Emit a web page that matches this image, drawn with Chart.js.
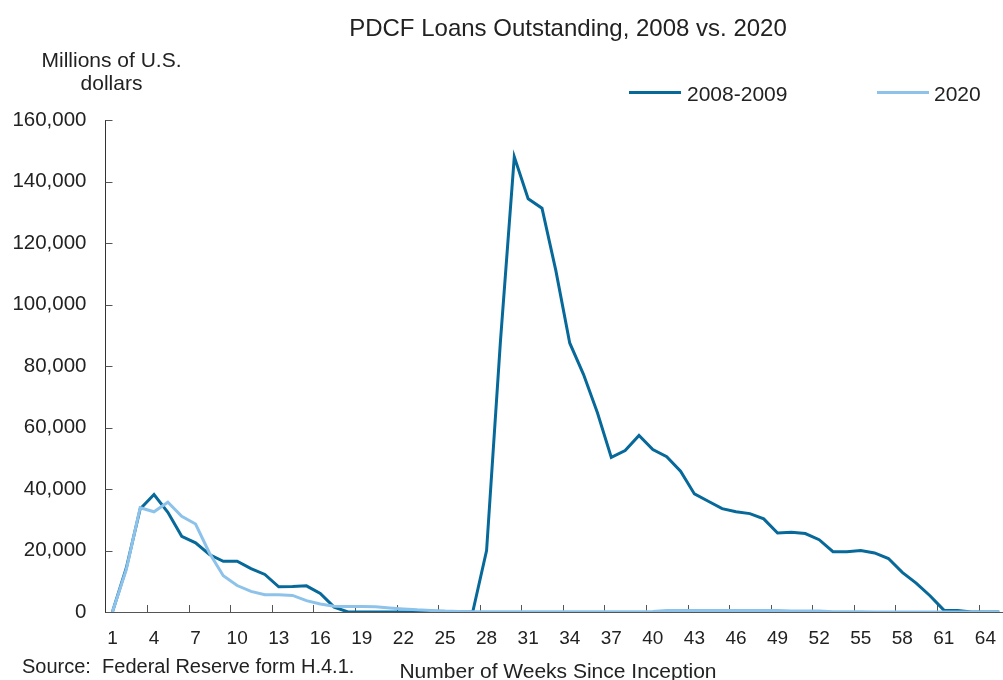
<!DOCTYPE html>
<html>
<head>
<meta charset="utf-8">
<script src="https://cdn.jsdelivr.net/npm/chart.js@4/dist/chart.umd.min.js"></script>
<style>
html, body { margin: 0; padding: 0; background: #fff; overflow: hidden; width: 1003px; height: 680px; }
#wrap { position: relative; width: 1010px; height: 680px; font-family: "Liberation Sans", Arial, sans-serif; color: #222; }
#wrap .t { position: absolute; white-space: pre; line-height: 1; }
#wrap .sw { position: absolute; height: 3px; width: 52px; }
canvas { position: absolute; left: 0; top: 0; }
</style>
</head>
<body>
<div id="wrap">
  <canvas id="pdcfChart" width="1011" height="680"></canvas>
  <div class="t" style="left:568px;top:15.5px;font-size:24px;transform:translateX(-50%)">PDCF Loans Outstanding, 2008 vs. 2020</div>
  <div class="t" style="left:111.5px;top:48px;font-size:21px;line-height:23.3px;text-align:center;transform:translateX(-50%)">Millions of U.S.
dollars</div>
  <div id="legend"></div>
  <div class="t" style="left:22px;top:656px;font-size:20px">Source:  Federal Reserve form H.4.1.</div>
  <div class="t" style="left:558px;top:659.5px;font-size:21px;transform:translateX(-50%)">Number of Weeks Since Inception</div>
</div>
<script>
// weeks since the facility opened
const weeks = [1, 2, 3, 4, 5, 6, 7, 8, 9, 10, 11, 12, 13, 14, 15, 16, 17, 18, 19, 20,
  21, 22, 23, 24, 25, 26, 27, 28, 29, 30, 31, 32, 33, 34, 35, 36, 37, 38, 39, 40,
  41, 42, 43, 44, 45, 46, 47, 48, 49, 50, 51, 52, 53, 54, 55, 56, 57, 58, 59, 60,
  61, 62, 63, 64, 65];

// millions of dollars
const loans2008 = [0, 14300, 33500, 38200, 32400, 24600, 22500, 18700, 16500, 16500,
  14100, 12200, 8200, 8300, 8500, 6000, 1600, 0, 0, 0,
  0, 0, 0, 0, 0, 0, 0, 20000, 88000, 148000,
  134400, 131300, 111000, 87500, 77200, 64800, 50300, 52500, 57400, 52800,
  50500, 45800, 38400, 36000, 33600, 32600, 32000, 30300, 25700, 25900,
  25500, 23500, 19600, 19600, 20000, 19200, 17400, 12900, 9400, 5300,
  600, 500, 0, 0, 0];

const loans2020 = [0, 13800, 33900, 32600, 35700, 31100, 28600, 19200, 11800, 8600,
  6700, 5600, 5600, 5400, 3700, 2600, 1900, 1800, 1800, 1700,
  1300, 1000, 700, 500, 300, 200, 100, 100, 100, 100,
  100, 100, 100, 100, 100, 100, 100, 100, 100, 200,
  500, 500, 500, 500, 500, 500, 500, 500, 500, 300,
  300, 300, 100, 100, 100, 0, 0, 0, 0, 0,
  0, 0, 0, 0, 0];

const seriesNames = ['2008-2009', '2020'];
const seriesColors = ['#06699A', '#8DC3EA'];
const fontFamily = '"Liberation Sans", Arial, sans-serif';

// html legend, same spots as the original
const legendSpots = [[629, 687], [877, 934]];
const legendEl = document.getElementById('legend');
seriesNames.forEach(function (name, i) {
  const sw = document.createElement('div');
  sw.className = 'sw';
  sw.style.left = legendSpots[i][0] + 'px';
  sw.style.top = '91.2px';
  sw.style.background = seriesColors[i];
  const tx = document.createElement('div');
  tx.className = 't';
  tx.style.left = legendSpots[i][1] + 'px';
  tx.style.top = '83.2px';
  tx.style.fontSize = '21px';
  tx.textContent = name;
  legendEl.appendChild(sw);
  legendEl.appendChild(tx);
});

// small tick marks pointing into the plot
const innerTicks = {
  id: 'innerTicks',
  beforeDatasetsDraw(chart) {
    const { ctx, chartArea: a, scales: { x, y } } = chart;
    ctx.save();
    ctx.strokeStyle = '#555';
    ctx.lineWidth = 1;
    ctx.beginPath();
    for (let i = 3; i < weeks.length; i += 3) {
      const px = Math.round((x.getPixelForValue(i - 1) + x.getPixelForValue(i)) / 2) + 0.5;
      ctx.moveTo(px, a.bottom);
      ctx.lineTo(px, a.bottom - 7);
    }
    y.ticks.forEach(function (t) {
      const py = Math.round(y.getPixelForValue(t.value)) + 0.5;
      ctx.moveTo(a.left, py);
      ctx.lineTo(a.left + 7, py);
    });
    ctx.stroke();
    ctx.restore();
  }
};

const pdcfChart = new Chart(document.getElementById('pdcfChart'), {
  type: 'line',
  data: {
    labels: weeks,
    datasets: [
      { label: seriesNames[0], data: loans2008, borderColor: seriesColors[0], borderWidth: 3,
        pointRadius: 0, tension: 0, fill: false, order: 1 },
      { label: seriesNames[1], data: loans2020, borderColor: seriesColors[1], borderWidth: 3,
        pointRadius: 0, tension: 0, fill: false, order: 0 }
    ]
  },
  options: {
    responsive: false,
    animation: false,
    devicePixelRatio: 1,
    layout: { padding: { top: 120, left: 0, right: 0, bottom: 0 } },
    plugins: { legend: { display: false }, tooltip: { enabled: false } },
    scales: {
      x: {
        type: 'category',
        offset: true,
        grid: { display: false, drawTicks: false },
        border: { display: true, color: '#555', width: 1 },
        ticks: {
          autoSkip: false, maxRotation: 0, minRotation: 0, padding: 15,
          color: '#222', font: { family: fontFamily, size: 19 },
          callback: function (v, i) { return i % 3 === 0 ? this.getLabelForValue(v) : null; }
        },
        afterFit: function (s) { s.height = 68; }
      },
      y: {
        min: 0, max: 160000,
        grid: { display: false, drawTicks: false },
        border: { display: true, color: '#333', width: 1 },
        ticks: {
          stepSize: 20000, padding: 19, color: '#222',
          font: { family: fontFamily, size: 20.5 },
          callback: function (v) { return v.toLocaleString('en-US'); }
        },
        afterFit: function (s) { s.width = 105.5; }
      }
    }
  },
  plugins: [innerTicks]
});
</script>
</body>
</html>
